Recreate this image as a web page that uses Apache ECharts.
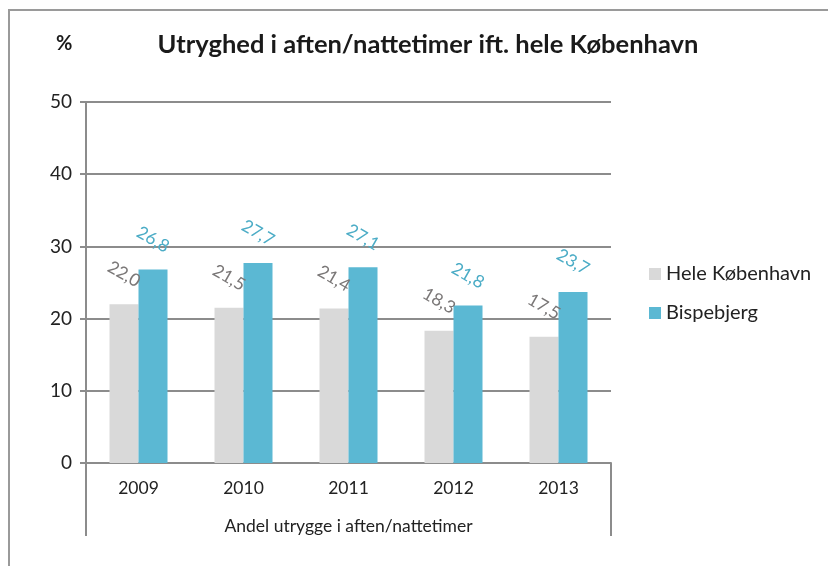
<!DOCTYPE html>
<html>
<head>
<meta charset="utf-8">
<script src="https://cdn.jsdelivr.net/npm/echarts@6/dist/echarts.min.js"></script>
<style>
  html, body { margin: 0; padding: 0; background: #fff; overflow: hidden; width: 828px; height: 566px; }
  #chart { position: absolute; left: 0; top: 0; width: 828px; height: 566px; }
  #frame { position: absolute; left: 8px; top: 9px; width: 830px; height: 570px; border-top: 2px solid #9a9a9a; border-left: 2px solid #9a9a9a; box-sizing: border-box; }
</style>
</head>
<body>
<div id="frame"></div>
<div id="chart"></div>
<script>
  const years = ['2009', '2010', '2011', '2012', '2013'];
  const heleKbh = [22.0, 21.5, 21.4, 18.3, 17.5];
  const bispebjerg = [26.8, 27.7, 27.1, 21.8, 23.7];
  const yTicks = { min: 0, max: 50, interval: 10 };

  const font = 'Lato, "Open Sans", sans-serif';
  const fmt = p => p.value.toFixed(1).replace('.', ',');

  const chart = echarts.init(document.getElementById('chart'));

  function labelStyle(color) {
    return {
      show: true,
      position: 'top',
      rotate: -30,
      distance: 30,
      align: 'center',
      verticalAlign: 'middle',
      color: color,
      fontFamily: font,
      fontSize: 17.5,
      formatter: fmt
    };
  }

  chart.setOption({
    animation: false,
    textStyle: { fontFamily: font },
    title: [
      {
        text: 'Utryghed i aften/nattetimer ift. hele København',
        left: 423,
        top: 27,
        textAlign: 'center',
        textStyle: { fontSize: 25.5, fontWeight: 'bold', color: '#1a1a1a', fontFamily: font }
      },
      {
        text: '%',
        left: 51,
        top: 29,
        textStyle: { fontSize: 20, fontWeight: 'bold', color: '#1a1a1a', fontFamily: font }
      }
    ],
    legend: {
      orient: 'vertical',
      left: 644,
      top: 259,
      itemWidth: 12,
      itemHeight: 12,
      itemGap: 19,
      icon: 'rect',
      textStyle: { fontSize: 20, color: '#222', fontFamily: font },
      data: ['Hele København', 'Bispebjerg']
    },
    grid: { left: 86, right: 217, top: 102, bottom: 103 },
    xAxis: [
      {
        type: 'category',
        data: years,
        axisLine: { lineStyle: { color: '#8c8c8c', width: 2 } },
        axisTick: { show: false },
        axisLabel: { margin: 16, fontSize: 17.5, color: '#222', fontFamily: font }
      },
      {
        type: 'category',
        position: 'bottom',
        data: ['Andel utrygge i aften/nattetimer'],
        axisLine: { show: false },
        axisTick: { show: true, length: 73, lineStyle: { color: '#8c8c8c', width: 2 } },
        axisLabel: { margin: 54, fontSize: 17.5, color: '#222', fontFamily: font }
      }
    ],
    yAxis: {
      type: 'value',
      min: yTicks.min,
      max: yTicks.max,
      interval: yTicks.interval,
      axisLine: { show: true, lineStyle: { color: '#8c8c8c', width: 2 } },
      axisTick: { show: true, length: 6, lineStyle: { color: '#8c8c8c', width: 2 } },
      splitLine: { lineStyle: { color: '#8c8c8c', width: 2 } },
      axisLabel: { margin: 14, fontSize: 19, color: '#222', fontFamily: font }
    },
    series: [
      {
        name: 'Hele København',
        type: 'bar',
        data: heleKbh,
        barWidth: 29,
        barGap: '0%',
        itemStyle: { color: '#d9d9d9' },
        label: labelStyle('#7a7777')
      },
      {
        name: 'Bispebjerg',
        type: 'bar',
        data: bispebjerg,
        barWidth: 29,
        barGap: '0%',
        itemStyle: { color: '#5bb8d3' },
        label: labelStyle('#4bacc6')
      }
    ]
  });

  window.addEventListener('resize', () => chart.resize());
</script>
</body>
</html>
